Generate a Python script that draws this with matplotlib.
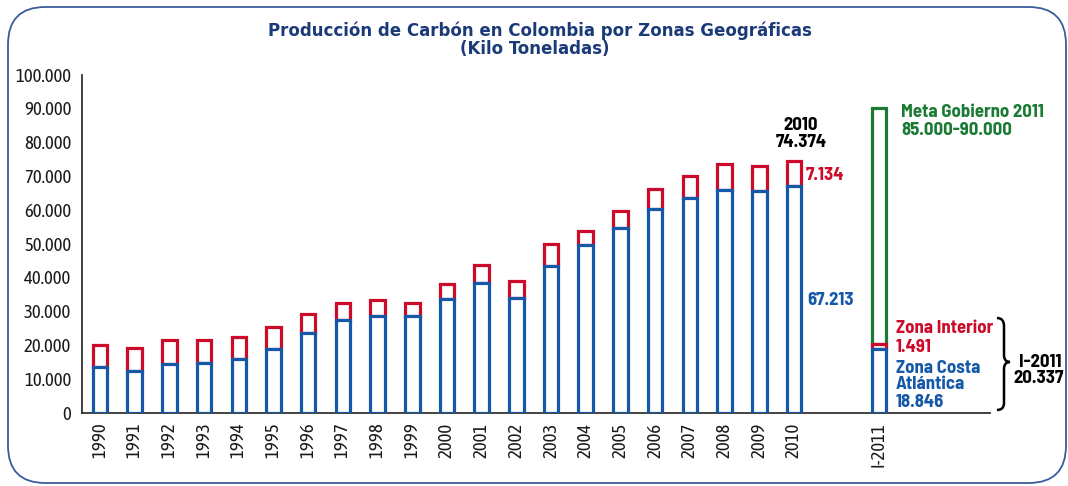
import matplotlib
matplotlib.use("Agg")
import matplotlib.pyplot as plt
from matplotlib.patches import FancyBboxPatch, PathPatch
from matplotlib.path import Path
from matplotlib.ticker import FuncFormatter

# Datos (kilo toneladas)
years = ['1990', '1991', '1992', '1993', '1994', '1995', '1996', '1997', '1998', '1999',
         '2000', '2001', '2002', '2003', '2004', '2005', '2006', '2007', '2008', '2009', '2010']
costa = [13500, 12300, 14500, 14800, 15900, 18900, 23600, 27500, 28700, 28700,
         33600, 38500, 33900, 43300, 49500, 54700, 60400, 63600, 66000, 65600, 67213]
interior = [6600, 6800, 7100, 6600, 6500, 6400, 5500, 4900, 4500, 3700,
            4400, 5100, 5200, 6700, 4200, 4900, 5900, 6300, 7700, 7300, 7161]

q_label = 'I-2011'
q_costa = 18846
q_interior = 1491
meta = 90000

BLUE = '#1558A8'
RED = '#CC0A2A'
GREEN = '#1B7A34'
NAVY = '#1A3A78'

plt.rcParams['font.family'] = ['Asap Condensed', 'DejaVu Sans']
NOTE_FONT = ['Barlow Semi Condensed', 'DejaVu Sans']

W, H = 1068, 486
fig = plt.figure(figsize=(W / 100, H / 100), dpi=100)


def fx(x):
    return x / W


def fy(y):
    return 1 - y / H


# marco redondeado
frame = FancyBboxPatch((fx(8), fy(483)), fx(1066) - fx(8), fy(7) - fy(483),
                       boxstyle='round,pad=0,rounding_size=0.035',
                       transform=fig.transFigure, fill=False,
                       edgecolor='#3B5C9A', linewidth=1.3, mutation_aspect=W / H)
fig.patches.append(frame)

ax = fig.add_axes([fx(82.3), fy(412.7), fx(990) - fx(82.3), fy(74.7) - fy(412.7)])

xs = list(range(len(years)))
xq = len(years) + 1.45
bw = 0.42
lw = 2.3

ax.bar(xs, interior, bw, bottom=costa, facecolor='white', edgecolor=RED, linewidth=lw, zorder=2)
ax.bar(xs, costa, bw, facecolor='white', edgecolor=BLUE, linewidth=lw, zorder=3)

q_total = q_costa + q_interior
ax.bar([xq], [meta - q_total], bw, bottom=[q_total], facecolor='white', edgecolor=GREEN, linewidth=lw, zorder=1)
ax.bar([xq], [q_interior], bw, bottom=[q_costa], facecolor='white', edgecolor=RED, linewidth=lw, zorder=2)
ax.bar([xq], [q_costa], bw, facecolor='white', edgecolor=BLUE, linewidth=lw, zorder=3)

ax.set_ylim(0, 100000)
ax.set_xlim(-0.51, 25.65)
ax.set_yticks(range(0, 100001, 10000))
ax.yaxis.set_major_formatter(FuncFormatter(lambda v, p: f'{int(v):,}'.replace(',', '.')))
ax.set_xticks(xs + [xq])
ax.set_xticklabels(years + [q_label], rotation=90)
ax.tick_params(axis='both', length=0, labelsize=13.5, colors='#1a1a1a')
ax.tick_params(axis='y', pad=8)
ax.tick_params(axis='x', pad=7)
for s in ['top', 'right']:
    ax.spines[s].set_visible(False)
for s in ['left', 'bottom']:
    ax.spines[s].set_color('#333333')
    ax.spines[s].set_linewidth(1.3)
ax.patch.set_alpha(0)

# titulo
for x, y, t in [(540, 36, 'Producción de Carbón en Colombia por Zonas Geográficas'),
                (535, 53.5, '(Kilo Toneladas)')]:
    fig.text(fx(x), fy(y), t, ha='center', va='baseline', fontsize=13.3, fontweight='bold',
             color=NAVY, family='DejaVu Sans', fontstretch='condensed')

# anotaciones
notes = [
    (801, 130, '2010', 'black', 'center'),
    (801, 147, '74.374', 'black', 'center'),
    (806, 180, '7.134', RED, 'left'),
    (807, 305, '67.213', BLUE, 'left'),
    (901, 117, 'Meta Gobierno 2011', GREEN, 'left'),
    (901, 135, '85.000-90.000', GREEN, 'left'),
    (896, 333.3, 'Zona Interior', RED, 'left'),
    (896, 351.7, '1.491', RED, 'left'),
    (896, 372.7, 'Zona Costa', BLUE, 'left'),
    (896, 389, 'Atlántica', BLUE, 'left'),
    (896, 406.7, '18.846', BLUE, 'left'),
    (1040, 366.7, 'I-2011', 'black', 'center'),
    (1039, 383, '20.337', 'black', 'center'),
]
for x, y, t, c, ha in notes:
    fig.text(fx(x), fy(y), t, ha=ha, va='baseline', fontsize=13.5, fontweight='bold',
             color=c, family=NOTE_FONT)

# llave
pts = [(997, 318), (1004, 318), (1004, 326), (1004, 355), (1004, 362), (1010, 362),
       (1004, 362), (1004, 369), (1004, 403), (1004, 410), (997, 410)]
codes = [Path.MOVETO, Path.CURVE3, Path.CURVE3, Path.LINETO, Path.CURVE3, Path.CURVE3,
         Path.CURVE3, Path.CURVE3, Path.LINETO, Path.CURVE3, Path.CURVE3]
brace = Path([(fx(a), fy(b)) for a, b in pts], codes)
fig.patches.append(PathPatch(brace, transform=fig.transFigure, fill=False,
                             edgecolor='black', linewidth=1.8))

fig.savefig('out.png', dpi=100)
